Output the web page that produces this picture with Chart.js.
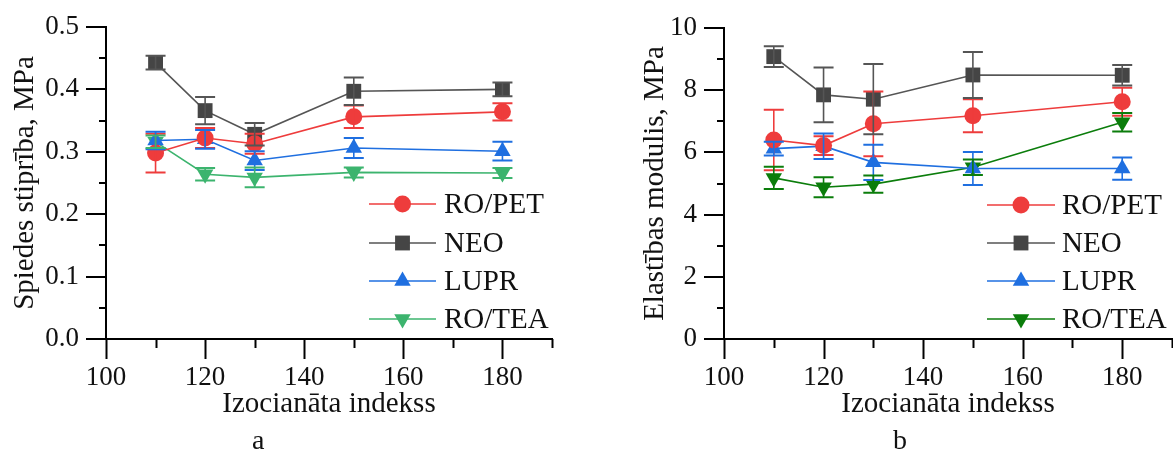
<!DOCTYPE html>
<html>
<head>
<meta charset="utf-8">
<script src="https://cdn.jsdelivr.net/npm/chart.js@4.4.1/dist/chart.umd.min.js"></script>
<style>
  html, body { margin: 0; background: #fff; overflow: hidden; }
  #wrap { position: relative; width: 1173px; height: 456px; overflow: hidden; }
  canvas { position: absolute; top: 0; }
  .cap { position: absolute; font-family: "Liberation Serif", serif; font-size: 28px; color: #111; }
</style>
</head>
<body>
<div id="wrap">
  <canvas id="chartA" width="586" height="456" style="left:0; width:586px; height:456px"></canvas>
  <canvas id="chartB" width="600" height="456" style="left:586px; width:600px; height:456px"></canvas>
  <div class="cap" style="left:252px; top:424px">a</div>
  <div class="cap" style="left:893px; top:424px">b</div>
</div>
<script>
const xIdx = [110, 120, 130, 150, 180];
const seriesNames = ['RO/PET', 'NEO', 'LUPR', 'RO/TEA'];

// a - spiedes stiprība
const aRoPet = [0.298, 0.322, 0.313, 0.356, 0.364];
const aRoPetErr = [0.031, 0.016, 0.016, 0.018, 0.014];
const aNeo = [0.443, 0.366, 0.328, 0.397, 0.400];
const aNeoErr = [0.011, 0.022, 0.018, 0.022, 0.011];
const aLupr = [0.318, 0.320, 0.286, 0.306, 0.301];
const aLuprErr = [0.014, 0.015, 0.015, 0.016, 0.015];
const aRoTea = [0.316, 0.264, 0.259, 0.267, 0.266];
const aRoTeaErr = [0.010, 0.010, 0.016, 0.008, 0.008];

// b - elastības modulis
const bRoPet = [6.40, 6.22, 6.92, 7.18, 7.63];
const bRoPetErr = [0.97, 0.30, 1.04, 0.53, 0.45];
const bNeo = [9.08, 7.85, 7.71, 8.49, 8.48];
const bNeoErr = [0.33, 0.88, 1.13, 0.74, 0.33];
const bLupr = [6.12, 6.20, 5.68, 5.48, 5.48];
const bLuprErr = [0.22, 0.41, 0.57, 0.53, 0.36];
const bRoTea = [5.18, 4.88, 4.98, 5.52, 6.97];
const bRoTeaErr = [0.36, 0.32, 0.28, 0.25, 0.30];

const FONT = 'Liberation Serif';

function makeSet(label, ys, errs, color, markColor, style, radius, rotation) {
    return {
        label: label,
        data: xIdx.map((x, i) => ({ x: x, y: ys[i] })),
        errors: errs,
        borderColor: color,
        borderWidth: 1.6,
        backgroundColor: markColor,
        pointBackgroundColor: markColor,
        pointBorderColor: markColor,
        pointBorderWidth: 0,
        pointStyle: style,
        pointRadius: radius,
        pointRotation: rotation || 0,
        tension: 0,
        fill: false,
        clip: false,
    };
}

// error bars drawn through the scales
const errorBars = {
    id: 'errorBars',
    afterDatasetsDraw(chart) {
        const ctx = chart.ctx;
        const xs = chart.scales.x, ys = chart.scales.y;
        chart.data.datasets.forEach(ds => {
            ctx.save();
            ctx.strokeStyle = ds.borderColor;
            ds.data.forEach((p, i) => {
                const px = xs.getPixelForValue(p.x);
                const top = ys.getPixelForValue(p.y + ds.errors[i]);
                const bot = ys.getPixelForValue(p.y - ds.errors[i]);
                ctx.lineWidth = 1.6;
                ctx.beginPath();
                ctx.moveTo(px, top);
                ctx.lineTo(px, bot);
                ctx.stroke();
                ctx.lineWidth = 2;
                ctx.beginPath();
                ctx.moveTo(px - 10, top); ctx.lineTo(px + 10, top);
                ctx.moveTo(px - 10, bot); ctx.lineTo(px + 10, bot);
                ctx.stroke();
            });
            ctx.restore();
        });
    }
};

// major / minor tick marks outside the axes
const tickMarks = {
    id: 'tickMarks',
    afterDraw(chart) {
        const ctx = chart.ctx;
        ctx.save();
        ctx.strokeStyle = '#000';
        ctx.lineWidth = 2;
        const xs = chart.scales.x, ys = chart.scales.y;
        xs.ticks.forEach(t => {
            const px = Math.round(xs.getPixelForValue(t.value)) + 0.5;
            const len = t.label !== '' ? 20 : 9;
            ctx.beginPath();
            ctx.moveTo(px, xs.top);
            ctx.lineTo(px, xs.top + len);
            ctx.stroke();
        });
        ys.ticks.forEach(t => {
            const py = Math.round(ys.getPixelForValue(t.value));
            const len = t.label !== '' ? 20 : 7;
            ctx.beginPath();
            ctx.moveTo(ys.right, py);
            ctx.lineTo(ys.right - len, py);
            ctx.stroke();
        });
        ctx.restore();
    }
};

// legend inside the plot
const innerLegend = {
    id: 'innerLegend',
    afterDraw(chart, args, opts) {
        const ctx = chart.ctx;
        ctx.save();
        chart.data.datasets.forEach((ds, i) => {
            const y = opts.rows[i];
            ctx.strokeStyle = ds.borderColor;
            ctx.lineWidth = 1.6;
            ctx.beginPath();
            ctx.moveTo(opts.x0, y);
            ctx.lineTo(opts.x1, y);
            ctx.stroke();
            ctx.fillStyle = ds.pointBackgroundColor;
            ctx.strokeStyle = ds.pointBackgroundColor;
            Chart.helpers.drawPoint(ctx, {
                pointStyle: ds.pointStyle,
                rotation: ds.pointRotation,
                radius: ds.pointRadius,
                borderWidth: 0
            }, (opts.x0 + opts.x1) / 2, y);
            ctx.fillStyle = '#111';
            ctx.font = '29px "' + FONT + '"';
            ctx.textBaseline = 'middle';
            ctx.textAlign = 'left';
            ctx.fillText(ds.label, opts.tx, y + 1);
        });
        ctx.restore();
    }
};

// invisible tick space so labels sit clear of the drawn tick marks
const hiddenTicks = len => ({
    display: true, drawOnChartArea: false, drawTicks: true,
    tickLength: len, tickColor: 'rgba(0,0,0,0)',
});

function buildChart(id, sets, yMin, yMax, yStep, yFmt, yTitle, area, legend) {
    const canvas = document.getElementById(id);
    return new Chart(canvas.getContext('2d'), {
        type: 'line',
        data: { datasets: sets },
        options: {
            responsive: false,
            animation: false,
            devicePixelRatio: 1,
            layout: { padding: { top: area.top, right: area.padRight, bottom: 0, left: 0 } },
            plugins: {
                legend: { display: false },
                tooltip: { enabled: false },
                innerLegend: legend,
            },
            scales: {
                x: {
                    type: 'linear',
                    min: 100, max: 190,
                    afterFit: s => { s.height = canvas.height - area.bottom; },
                    grid: hiddenTicks(18),
                    border: { display: true, color: '#000', width: 2 },
                    ticks: {
                        stepSize: 10, autoSkip: false, maxRotation: 0, padding: 5,
                        color: '#111', font: { family: FONT, size: 27 },
                        callback: v => (v % 20 === 0 ? String(v) : ''),
                    },
                    title: {
                        display: true, text: 'Izocianāta indekss', color: '#111',
                        font: { family: FONT, size: 29 }, padding: { top: 0, bottom: 34 },
                    },
                },
                y: {
                    min: yMin, max: yMax,
                    afterFit: s => { s.width = area.left; },
                    grid: hiddenTicks(22),
                    border: { display: true, color: '#000', width: 2 },
                    ticks: {
                        stepSize: yStep, autoSkip: false, padding: 5,
                        color: '#111', font: { family: FONT, size: 27 },
                        callback: yFmt,
                    },
                    title: {
                        display: true, text: yTitle, color: '#111',
                        font: { family: FONT, size: 29 }, padding: { top: area.titleX - 17, bottom: 0 },
                    },
                },
            },
        },
        plugins: [errorBars, tickMarks, innerLegend],
    });
}

const green1 = '#3cb46e';
const green2 = '#0b7d0b';

buildChart('chartA', [
    makeSet(seriesNames[0], aRoPet, aRoPetErr, '#ee3c3c', '#ee3c3c', 'circle', 8.5),
    makeSet(seriesNames[1], aNeo, aNeoErr, '#555555', '#454545', 'rect', 10.5),
    makeSet(seriesNames[2], aLupr, aLuprErr, '#1f6fe0', '#1f6fe0', 'triangle', 9.5),
    makeSet(seriesNames[3], aRoTea, aRoTeaErr, green1, green1, 'triangle', 9.5, 180),
], 0, 0.5, 0.05,
    v => (Math.round(v * 100) % 10 === 0 ? v.toFixed(1) : ''),
    'Spiedes stiprība, MPa',
    { left: 106, padRight: 34, top: 27, bottom: 339, titleX: 25 },
    { x0: 369, x1: 436, tx: 444, rows: [204, 243, 281, 319] });

buildChart('chartB', [
    makeSet(seriesNames[0], bRoPet, bRoPetErr, '#ee3c3c', '#ee3c3c', 'circle', 8.5),
    makeSet(seriesNames[1], bNeo, bNeoErr, '#555555', '#454545', 'rect', 10.5),
    makeSet(seriesNames[2], bLupr, bLuprErr, '#1f6fe0', '#1f6fe0', 'triangle', 9.5),
    makeSet(seriesNames[3], bRoTea, bRoTeaErr, green2, green2, 'triangle', 9.5, 180),
], 0, 10, 1,
    v => (Math.round(v) % 2 === 0 ? String(Math.round(v)) : ''),
    'Elastības modulis, MPa',
    { left: 138, padRight: 14, top: 28, bottom: 339, titleX: 69 },
    { x0: 401, x1: 469, tx: 476, rows: [205, 243, 281, 319] });
</script>
</body>
</html>
